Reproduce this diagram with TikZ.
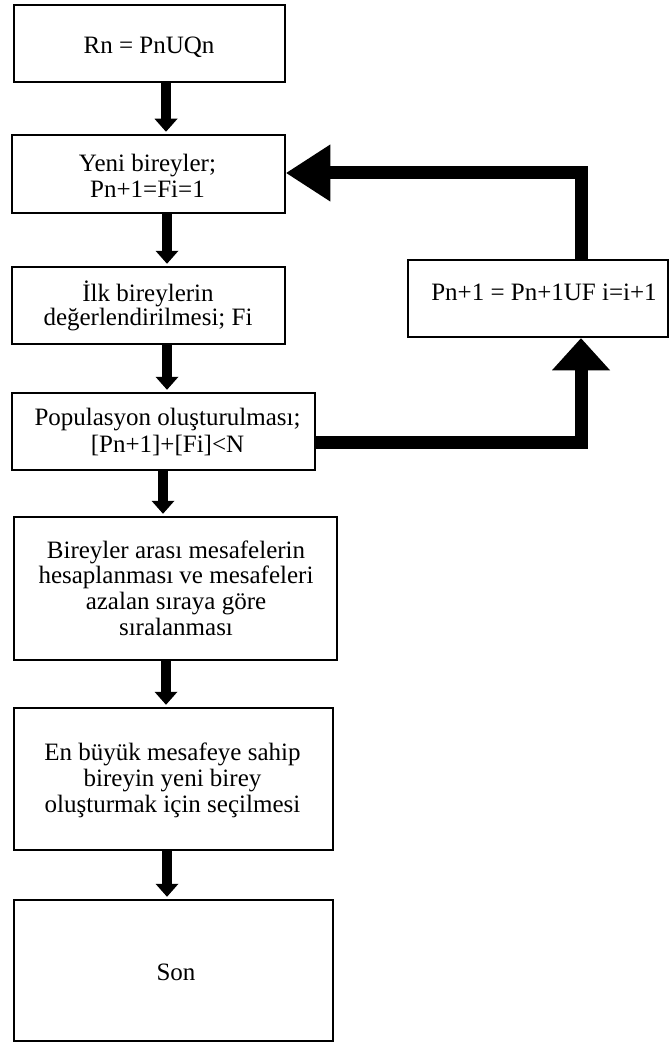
\documentclass[tikz,border=0pt]{standalone}
\usepackage{fontspec}
\setmainfont{Liberation Serif}
\usetikzlibrary{arrows.meta}
\newcommand{\tl}{\rule{0pt}{22pt}}
\begin{document}
\begin{tikzpicture}[x=1pt,y=1pt,
  box/.style={draw=black,line width=2.5pt,rectangle,inner sep=0pt},
  txt/.style={anchor=north,inner sep=0pt,align=center,text=black,font=\fontsize{25}{25.5}\selectfont},
  varrow/.style={line width=10pt,-{Triangle[width=23pt,length=13pt,line width=0pt]}},
  bigup/.style={line width=13pt,line join=miter,-{Triangle[width=58pt,length=32pt,line width=0pt]}},
  bigleft/.style={line width=13pt,line join=miter,-{Triangle[width=57pt,length=44pt,line width=0pt]}}]
\useasboundingbox (0,0) rectangle (670,-1043);
% boxes
\node[box,minimum width=271pt,minimum height=77pt] (b1) at (149.5,-43.5) {};
\node[box,minimum width=273pt,minimum height=78pt] (b2) at (148.5,-174) {};
\node[box,minimum width=273pt,minimum height=77pt] (b3) at (148.5,-305.5) {};
\node[box,minimum width=303pt,minimum height=77pt] (b4) at (163.5,-431.5) {};
\node[box,minimum width=323pt,minimum height=143pt] (b5) at (175.5,-588.5) {};
\node[box,minimum width=319pt,minimum height=142pt] (b6) at (173.5,-779) {};
\node[box,minimum width=319pt,minimum height=141pt] (b7) at (173.5,-970.5) {};
\node[box,minimum width=260pt,minimum height=77pt] (r) at (538,-298.5) {};
% texts
\node[txt] (t1) at (149,-31.3) {\tl Rn = PnUQn};
\node[txt] (t2) at (147.5,-149.7) {\tl Yeni bireyler;\\Pn+1=Fi=1};
\node[txt,font=\fontsize{25}{23.5}\selectfont] (t3) at (148,-279.7) {\tl İlk bireylerin\\değerlendirilmesi; Fi};
\node[txt,font=\fontsize{25}{27}\selectfont] (t4) at (167.5,-403) {\tl Populasyon oluşturulması;\\{}[Pn+1]+[Fi]<N};
\node[txt,font=\fontsize{25}{25.7}\selectfont] (t5) at (176,-536) {\tl Bireyler arası mesafelerin\\hesaplanması ve mesafeleri\\azalan sıraya göre\\sıralanması};
\node[txt,font=\fontsize{25}{26}\selectfont] (t6) at (172.5,-738) {\tl En büyük mesafeye sahip\\bireyin yeni birey\\oluşturmak için seçilmesi};
\node[txt] (t7) at (176,-958) {\tl Son};
\node[txt] (tr) at (544,-278) {\tl Pn+1 = Pn+1UF i=i+1};
% vertical arrows
\coordinate (xa) at (166,0);
\coordinate (xb) at (167,0);
\coordinate (xc) at (163,0);
\draw[varrow] (b1.south -| xa) -- ([yshift=2pt]b2.north -| xa);
\draw[varrow] (b2.south -| xb) -- ([yshift=2pt]b3.north -| xb);
\draw[varrow] (b3.south -| xb) -- ([yshift=2pt]b4.north -| xb);
\draw[varrow] (b4.south -| xc) -- ([yshift=2pt]b5.north -| xc);
\draw[varrow] (b5.south -| xa) -- ([yshift=2pt]b6.north -| xa);
\draw[varrow] (b6.south -| xb) -- ([yshift=2pt]b7.north -| xb);
% feedback loop
\coordinate (fb) at (581,-442);
\coordinate (tc) at (581,-173);
\draw[bigup] (b4.east |- fb) -- (fb) -- (r.south -| fb);
\draw[bigleft] (r.north -| tc) -- (tc) -- (b2.east |- tc);
\end{tikzpicture}
\end{document}
